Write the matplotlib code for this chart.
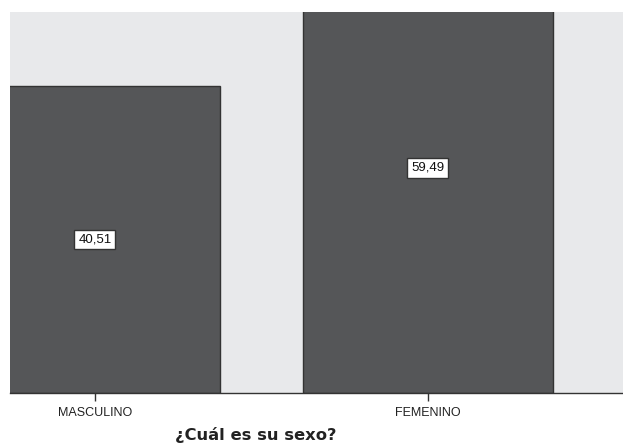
import numpy as np
import matplotlib
matplotlib.use("Agg")
import matplotlib.pyplot as plt

# data (percent)
categories = ["MASCULINO", "FEMENINO"]
percents = [40.51, 59.49]
value_labels = ["40,51", "59,49"]
axis_title = "¿Cuál es su sexo?"

W, H = 623, 444
fig = plt.figure(figsize=(W / 100, H / 100), dpi=100)
ax = fig.add_axes([10 / W, 51 / H, 613 / W, 381 / H])
ax.set_facecolor("#e8e9eb")

x = np.arange(len(categories))
ax.bar(x, percents, width=0.75, color="#555658", edgecolor="#333333", linewidth=1.0)

# value boxes sit half-way up each bar
for xi, v, lab in zip(x, percents, value_labels):
    ax.text(xi, v / 2, lab, ha="center", va="center", fontsize=9.5,
            family="Liberation Sans", color="#111111",
            bbox=dict(boxstyle="square,pad=0.3", facecolor="white",
                      edgecolor="#333333", linewidth=1.0))

ax.set_xlim(-0.255, 1.586)
ax.set_ylim(0, 50.28)
ax.set_xticks(x)
ax.set_xticklabels(categories, fontsize=9, family="Liberation Sans", color="#222222")
ax.tick_params(axis="x", length=6, width=1, color="#333333", pad=4)
ax.set_yticks([])
for s in ["top", "right", "left"]:
    ax.spines[s].set_visible(False)
ax.spines["bottom"].set_color("#333333")
ax.spines["bottom"].set_linewidth(1.0)

fig.text(256 / W, 1 - 435 / H, axis_title, ha="center", va="center",
         fontsize=11.8, fontweight="bold", color="#222222")

fig.savefig("out.png", dpi=100)
